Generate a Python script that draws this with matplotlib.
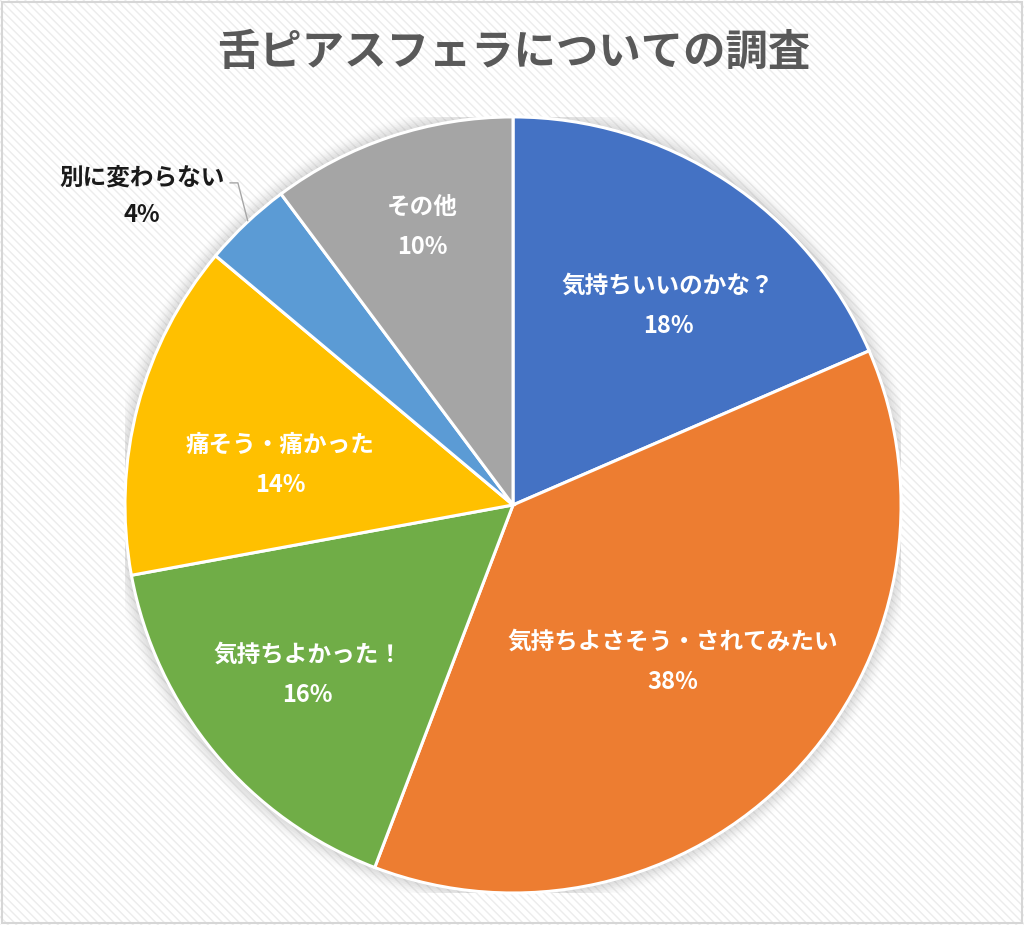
import numpy as np
import matplotlib
matplotlib.use("Agg")
import matplotlib.pyplot as plt
from matplotlib.patches import Rectangle, Circle

plt.rcParams['font.family'] = ['Noto Sans CJK JP', 'DejaVu Sans']

title = "舌ピアスフェラについての調査"
categories = ["気持ちいいのかな？", "気持ちよさそう・されてみたい", "気持ちよかった！",
              "痛そう・痛かった", "別に変わらない", "その他"]
values = [18.5, 37.3, 16.3, 14.0, 3.7, 10.2]
pct_labels = ["18%", "38%", "16%", "14%", "4%", "10%"]
colors = ["#4472C4", "#ED7D31", "#70AD47", "#FFC000", "#5B9BD5", "#A5A5A5"]

fig = plt.figure(figsize=(10.24, 9.25), dpi=100)
fig.patch.set_facecolor("white")

# striped background
plt.rcParams['hatch.linewidth'] = 1.0
bg = Rectangle((0, 0), 1, 1, transform=fig.transFigure, facecolor="#FFFFFF",
               edgecolor="#ECECEC", hatch="\\\\\\\\", linewidth=0, zorder=-10)
fig.patches.append(bg)
border = Rectangle((0.002, 0.002), 0.996, 0.996, transform=fig.transFigure,
                   facecolor="none", edgecolor="#D6D6D6", linewidth=1.5, zorder=-9)
fig.patches.append(border)

fig.text(0.502, 0.943, title, ha="center", va="center", fontsize=30.5,
         fontweight="bold", color="#595959")

ax = fig.add_axes([0.122, 0.0346, 0.758, 0.839])
ax.set_xlim(-1, 1)
ax.set_ylim(-1, 1)
ax.set_aspect("equal")
ax.axis("off")

# soft shadow
for i, a in enumerate(np.linspace(0.07, 0.01, 8)):
    ax.add_patch(Circle((0, 0), 1.0 + 0.005 * (i + 1), facecolor="#808080",
                        edgecolor="none", alpha=a, zorder=0))

wedges, _ = ax.pie(values, colors=colors, startangle=90, counterclock=False,
                   radius=1.0, center=(0, 0), frame=True,
                   wedgeprops=dict(edgecolor="white", linewidth=2.2))
for w in wedges:
    w.set_zorder(2)
ax.set_xlim(-1, 1)
ax.set_ylim(-1, 1)
ax.axis("off")

# label placement: (radius fraction, angle offset in degrees from wedge middle)
label_r = [0.650, 0.576, 0.686, 0.609, None, 0.754]
label_dang = [-4.6, -0.7, -0.2, 4.9, 0.0, -0.3]
for w, cat, pct, r, da in zip(wedges, categories, pct_labels, label_r, label_dang):
    if r is None:
        continue
    mid = np.deg2rad((w.theta1 + w.theta2) / 2 + da)
    x, y = r * np.cos(mid), r * np.sin(mid)
    ax.text(x, y, f"{cat}\n{pct}", ha="center", va="center", fontsize=17,
            fontweight="bold", color="white", linespacing=1.85, zorder=5)

# outside label for small slice
w = wedges[4]
mid = np.deg2rad((w.theta1 + w.theta2) / 2)
ex, ey = 1.0 * np.cos(mid), 1.0 * np.sin(mid)
ax.plot([-0.729, -0.709, ex + 0.003], [0.830, 0.830, ey + 0.006],
        color="#A6A6A6", linewidth=1.0, zorder=3, clip_on=False)
ax.text(-0.956, 0.795, f"{categories[4]}\n{pct_labels[4]}", ha="center", va="center",
        fontsize=17, fontweight="bold", color="#1A1A1A", linespacing=1.7,
        zorder=5, clip_on=False)

fig.savefig("out.png", dpi=100, facecolor=fig.get_facecolor())
